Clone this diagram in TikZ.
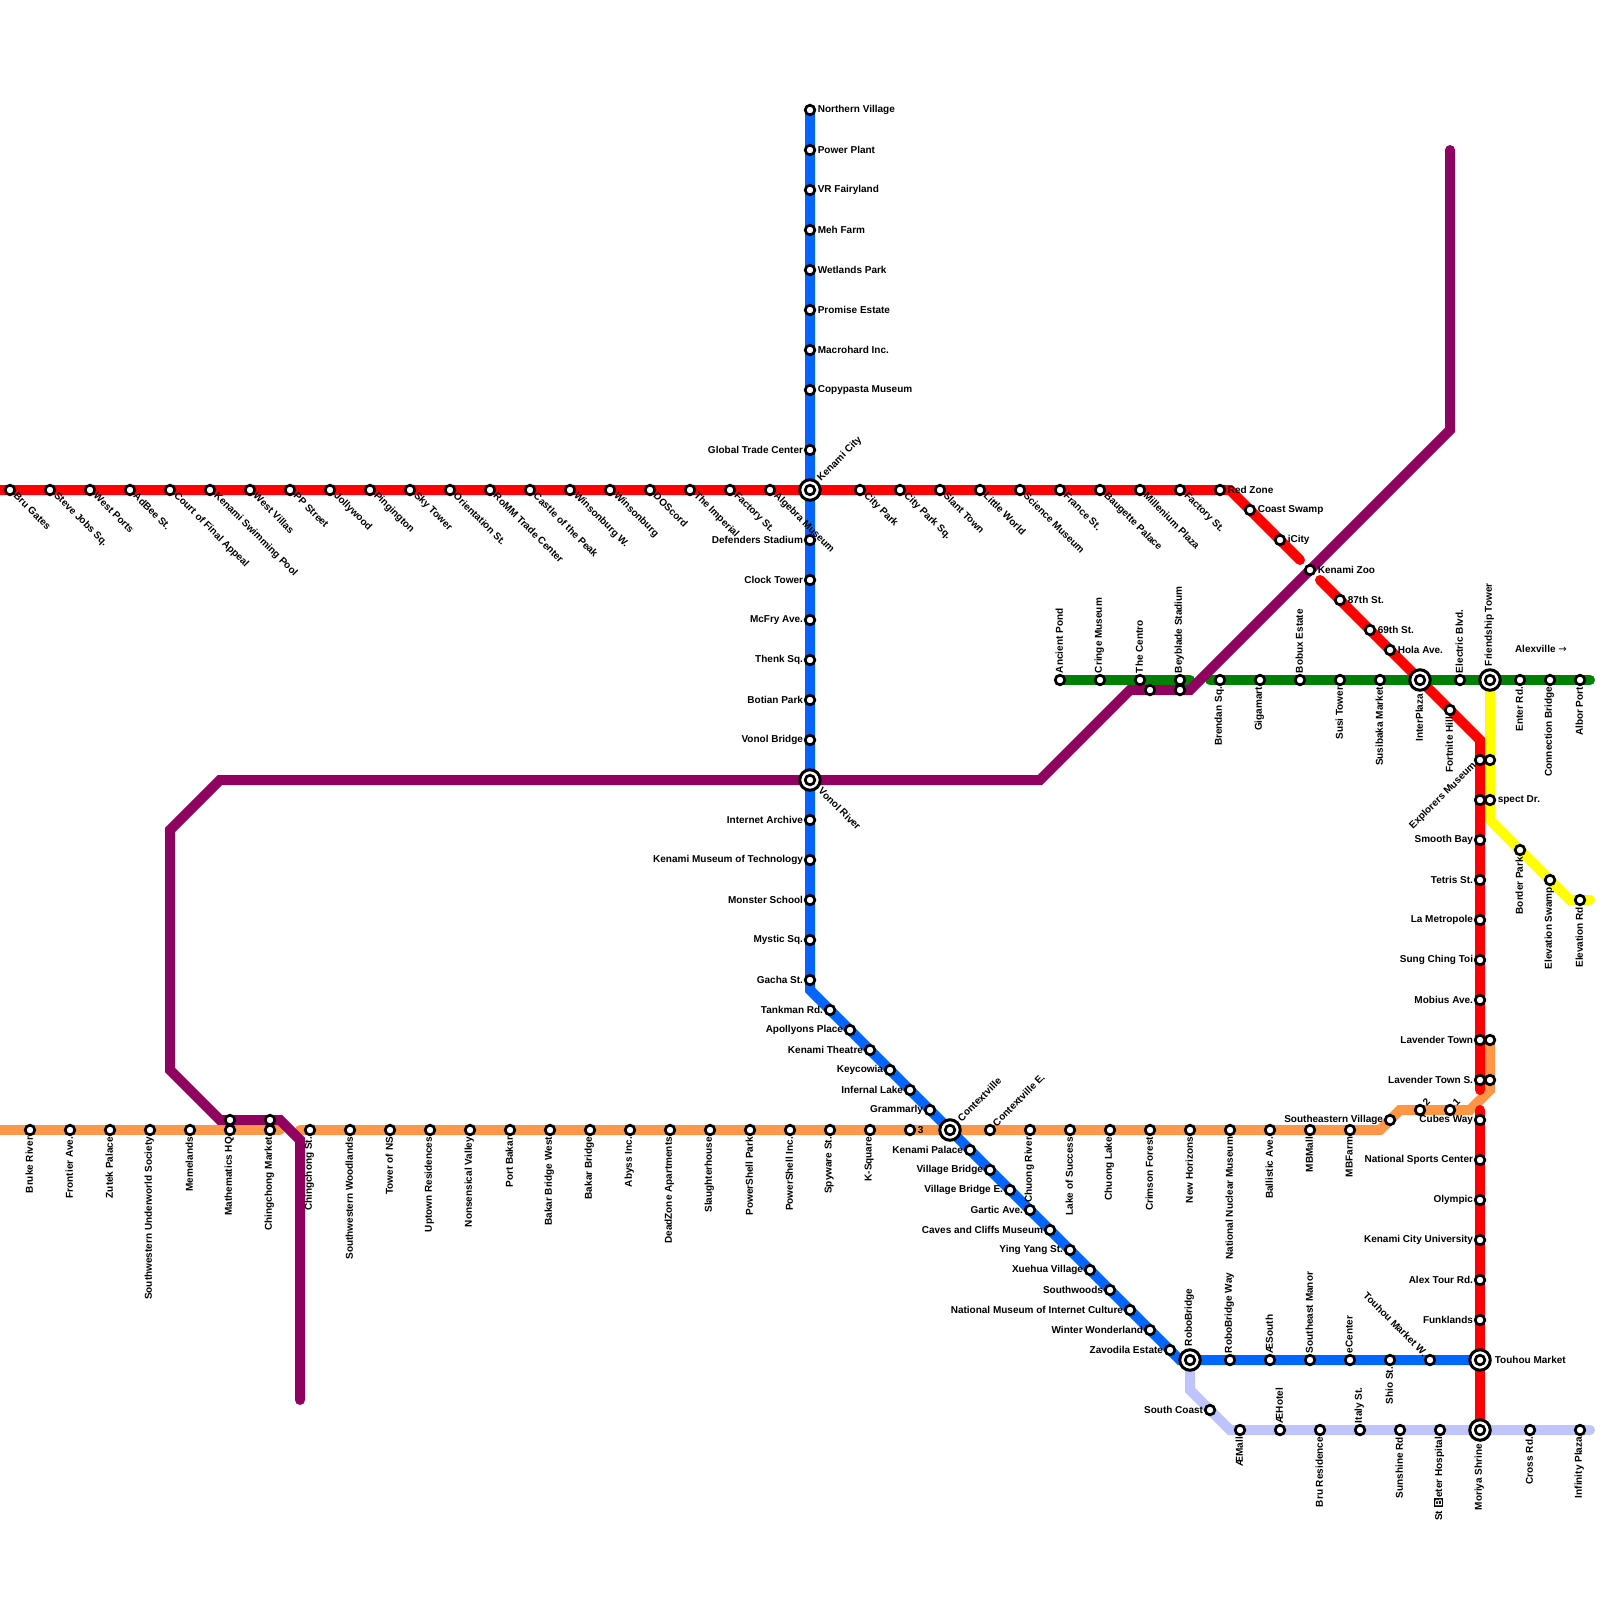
\documentclass[tikz,border=0pt]{standalone}
\usepackage{fontspec}
\setmainfont{Liberation Sans}[BoldFont={Liberation Sans Bold}]
\newfontfamily\arrowfont{DejaVu Sans}
\usetikzlibrary{backgrounds}
\definecolor{cred}{HTML}{FF0000}
\definecolor{cblue}{HTML}{0066FF}
\definecolor{cgreen}{HTML}{008000}
\definecolor{cpurple}{HTML}{8F005F}
\definecolor{corange}{HTML}{FF9747}
\definecolor{cyellow}{HTML}{FFFF00}
\definecolor{clav}{HTML}{BFC4FF}
\tikzset{
  stn/.style={circle,draw=black,fill=white,line width=2.7pt,inner sep=0pt,outer sep=0pt,minimum size=9.6pt},
  hubring/.style={circle,draw=black,fill=white,line width=3pt,inner sep=0pt,outer sep=0pt,minimum size=20.5pt},
  lbl/.style={inner sep=0pt,outer sep=0pt,font=\fontsize{10pt}{10pt}\selectfont\bfseries,text=black},
  lE/.style={lbl,anchor=west,xshift=7.8pt,yshift=.25pt},
  lW/.style={lbl,anchor=east,xshift=-7pt,yshift=.25pt},
  lN/.style={lbl,rotate=90,anchor=west,xshift=7pt,yshift=.8pt},
  lS/.style={lbl,rotate=90,anchor=east,xshift=-7pt,yshift=.8pt},
  lNE/.style={lbl,rotate=45,anchor=west,xshift=7pt,yshift=.8pt},
  lSE/.style={lbl,rotate=-45,anchor=west,xshift=7pt,yshift=.8pt},
  lNW/.style={lbl,rotate=-45,anchor=east,xshift=-7pt,yshift=.8pt},
  lSW/.style={lbl,rotate=45,anchor=east,xshift=-7pt,yshift=.8pt},
  metro/.style={line width=10pt,line cap=round,miter limit=10},
}
\newcommand{\stp}[5]{\node[stn] (#1) at (#2,#3) {}; \node[#4] (#1-t) at (#1.center) {#5};}
\newcommand{\stq}[3]{\node[stn] (#1) at (#2,#3) {};}
\newcommand{\hub}[5]{\node[hubring] (#1) at (#2,#3) {}; \node[stn] (#1-c) at (#1.center) {}; \node[#4,xshift=0pt] (#1-t) at (#1.center) {#5};}
\begin{document}
\begin{tikzpicture}[x=1pt,y=-1pt]
\useasboundingbox (0,0) rectangle (1600,1600);
% free ends and bends
\coordinate (rA) at (-10,490);
\coordinate (rB) at (1230,490);
\coordinate (rC) at (1300,560);
\coordinate (rD) at (1320,580);
\coordinate (rE) at (1480,740);
\coordinate (rF) at (1480,1090);
\coordinate (rG) at (1480,1110);
\coordinate (bA) at (810,990);
\coordinate (bB) at (1180,1360);
\coordinate (gA) at (1190,680);
\coordinate (gB) at (1210,680);
\coordinate (gC) at (1590,680);
\coordinate (pA) at (1450,150);
\coordinate (pB) at (1450,430);
\coordinate (pC) at (1190,690);
\coordinate (pD) at (1130,690);
\coordinate (pE) at (1040,780);
\coordinate (pF) at (220,780);
\coordinate (pG) at (170,830);
\coordinate (pH) at (170,1070);
\coordinate (pI) at (220,1120);
\coordinate (pJ) at (280,1120);
\coordinate (pK) at (300,1140);
\coordinate (pL) at (300,1400);
\coordinate (oA) at (-10,1130);
\coordinate (oB) at (280,1130);
\coordinate (oC) at (300,1130);
\coordinate (oD) at (1380,1130);
\coordinate (oE) at (1400,1110);
\coordinate (oF) at (1470,1110);
\coordinate (oG) at (1490,1090);
\coordinate (yA) at (1490,820);
\coordinate (yB) at (1570,900);
\coordinate (yC) at (1590,900);
\coordinate (lA) at (1190,1390);
\coordinate (lB) at (1230,1430);
\coordinate (lC) at (1590,1430);
% red horizontal
\stp{r1}{10}{490}{lSE}{Bru Gates}
\stp{r2}{50}{490}{lSE}{Steve Jobs Sq.}
\stp{r3}{90}{490}{lSE}{West Ports}
\stp{r4}{130}{490}{lSE}{AdBee St.}
\stp{r5}{170}{490}{lSE}{Court of Final Appeal}
\stp{r6}{210}{490}{lSE}{Kenami Swimming Pool}
\stp{r7}{250}{490}{lSE}{West Villas}
\stp{r8}{290}{490}{lSE}{PP Street}
\stp{r9}{330}{490}{lSE}{Jollywood}
\stp{r10}{370}{490}{lSE}{Pingington}
\stp{r11}{410}{490}{lSE}{Sky Tower}
\stp{r12}{450}{490}{lSE}{Orientation St.}
\stp{r13}{490}{490}{lSE}{RoMM Trade Center}
\stp{r14}{530}{490}{lSE}{Castle of the Peak}
\stp{r15}{570}{490}{lSE}{Winsonburg W.}
\stp{r16}{610}{490}{lSE}{Winsonburg}
\stp{r17}{650}{490}{lSE}{DOScord}
\stp{r18}{690}{490}{lSE}{The Imperial}
\stp{r19}{730}{490}{lSE}{Factory St.}
\stp{r20}{770}{490}{lSE}{Algebra Museum}
\hub{kenami}{810}{490}{lNE,xshift=7pt}{Kenami City}
\stp{r21}{860}{490}{lSE}{City Park}
\stp{r22}{900}{490}{lSE}{City Park Sq.}
\stp{r23}{940}{490}{lSE}{Slant Town}
\stp{r24}{980}{490}{lSE}{Little World}
\stp{r25}{1020}{490}{lSE}{Science Museum}
\stp{r26}{1060}{490}{lSE}{France St.}
\stp{r27}{1100}{490}{lSE}{Baugette Palace}
\stp{r28}{1140}{490}{lSE}{Millenium Plaza}
\stp{r29}{1180}{490}{lSE}{Factory St.}
\stp{r30}{1220}{490}{lE}{Red Zone}
\stp{r31}{1250}{510}{lE}{Coast Swamp}
\stp{r32}{1280}{540}{lE}{iCity}
\stp{r33}{1310}{570}{lE}{Kenami Zoo}
\stp{r34}{1340}{600}{lE}{87th St.}
\stp{r35}{1370}{630}{lE}{69th St.}
\stp{r36}{1390}{650}{lE}{Hola Ave.}
\stp{r37}{1450}{710}{lS}{Fortnite Hill}
% red vertical
\stp{v1}{1480}{760}{lSW}{Explorers Museum}
\stq{v2}{1480}{800}
\stp{v3}{1480}{840}{lW}{Smooth Bay}
\stp{v4}{1480}{880}{lW}{Tetris St.}
\stp{v5}{1480}{920}{lW}{La Metropole}
\stp{v6}{1480}{960}{lW}{Sung Ching Toi}
\stp{v7}{1480}{1000}{lW}{Mobius Ave.}
\stp{v8}{1480}{1040}{lW}{Lavender Town}
\stp{v9}{1480}{1080}{lW}{Lavender Town S.}
\stp{v10}{1480}{1120}{lW}{Cubes Way}
\stp{v11}{1480}{1160}{lW}{National Sports Center}
\stp{v12}{1480}{1200}{lW}{Olympic}
\stp{v13}{1480}{1240}{lW}{Kenami City University}
\stp{v14}{1480}{1280}{lW}{Alex Tour Rd.}
\stp{v15}{1480}{1320}{lW}{Funklands}
\hub{touhou}{1480}{1360}{lE,xshift=7pt}{Touhou Market}
\hub{moriya}{1480}{1430}{lS,xshift=-7pt}{Moriya Shrine}
% blue vertical
\stp{b1}{810}{110}{lE}{Northern Village}
\stp{b2}{810}{150}{lE}{Power Plant}
\stp{b3}{810}{190}{lE}{VR Fairyland}
\stp{b4}{810}{230}{lE}{Meh Farm}
\stp{b5}{810}{270}{lE}{Wetlands Park}
\stp{b6}{810}{310}{lE}{Promise Estate}
\stp{b7}{810}{350}{lE}{Macrohard Inc.}
\stp{b8}{810}{390}{lE}{Copypasta Museum}
\stp{b9}{810}{450}{lW}{Global Trade Center}
\stp{b10}{810}{540}{lW}{Defenders Stadium}
\stp{b11}{810}{580}{lW}{Clock Tower}
\stp{b12}{810}{620}{lW}{McFry Ave.}
\stp{b13}{810}{660}{lW}{Thenk Sq.}
\stp{b14}{810}{700}{lW}{Botian Park}
\stp{b15}{810}{740}{lW}{Vonol Bridge}
\hub{vonol}{810}{780}{lSE,xshift=7pt}{Vonol River}
\stp{b16}{810}{820}{lW}{Internet Archive}
\stp{b17}{810}{860}{lW}{Kenami Museum of Technology}
\stp{b18}{810}{900}{lW}{Monster School}
\stp{b19}{810}{940}{lW}{Mystic Sq.}
\stp{b20}{810}{980}{lW}{Gacha St.}
% blue diagonal
\stp{d1}{830}{1010}{lW}{Tankman Rd.}
\stp{d2}{850}{1030}{lW}{Apollyons Place}
\stp{d3}{870}{1050}{lW}{Kenami Theatre}
\stp{d4}{890}{1070}{lW}{Keycowia}
\stp{d5}{910}{1090}{lW}{Infernal Lake}
\stp{d6}{930}{1110}{lW}{Grammarly}
\hub{context}{950}{1130}{lNE,xshift=7pt}{Contextville}
\stp{d7}{970}{1150}{lW}{Kenami Palace}
\stp{d8}{990}{1170}{lW}{Village Bridge}
\stp{d9}{1010}{1190}{lW}{Village Bridge E.}
\stp{d10}{1030}{1210}{lW}{Gartic Ave.}
\stp{d11}{1050}{1230}{lW}{Caves and Cliffs Museum}
\stp{d12}{1070}{1250}{lW}{Ying Yang St.}
\stp{d13}{1090}{1270}{lW}{Xuehua Village}
\stp{d14}{1110}{1290}{lW}{Southwoods}
\stp{d15}{1130}{1310}{lW}{National Museum of Internet Culture}
\stp{d16}{1150}{1330}{lW}{Winter Wonderland}
\stp{d17}{1170}{1350}{lW}{Zavodila Estate}
\hub{robo}{1190}{1360}{lN,xshift=7pt}{RoboBridge}
% blue horizontal
\stp{h1}{1230}{1360}{lN}{RoboBridge Way}
\stp{h2}{1270}{1360}{lN}{ÆSouth}
\stp{h3}{1310}{1360}{lN}{Southeast Manor}
\stp{h4}{1350}{1360}{lN}{eCenter}
\stp{h5}{1390}{1360}{lS}{Shio St.}
\stp{h6}{1430}{1360}{lNW}{Touhou Market W.}
% lavender
\stp{l1}{1210}{1410}{lW}{South Coast}
\stp{l2}{1240}{1430}{lS}{ÆMall}
\stp{l3}{1280}{1430}{lN}{ÆHotel}
\stp{l4}{1320}{1430}{lS}{Bru Residence}
\stp{l5}{1360}{1430}{lN}{Italy St.}
\stp{l6}{1400}{1430}{lS}{Sunshine Rd}
\stp{l7}{1440}{1430}{lS}{St\hspace{3.5pt}{\setlength{\fboxsep}{1.2pt}\colorbox{black}{\textcolor{white}{B}}}eter Hospital}
\stp{l8}{1530}{1430}{lS}{Cross Rd.}
\stp{l9}{1580}{1430}{lS}{Infinity Plaza}
% green
\stp{g1}{1060}{680}{lN}{Ancient Pond}
\stp{g2}{1100}{680}{lN}{Cringe Museum}
\stp{g3}{1140}{680}{lN}{The Centro}
\stp{g4}{1180}{680}{lN}{Beyblade Stadium}
\stp{g5}{1220}{680}{lS}{Brendan Sq.}
\stp{g6}{1260}{680}{lS}{Gigamart}
\stp{g7}{1300}{680}{lN}{Bobux Estate}
\stp{g8}{1340}{680}{lS}{Susi Tower}
\stp{g9}{1380}{680}{lS}{Susibaka Market}
\hub{inter}{1420}{680}{lS,xshift=-7pt}{InterPlaza}
\stp{g10}{1460}{680}{lN}{Electric Blvd.}
\hub{friend}{1490}{680}{lN,xshift=7pt}{Friendship Tower}
\stp{g11}{1520}{680}{lS}{Enter Rd.}
\stp{g12}{1550}{680}{lS}{Connection Bridge}
\stp{g13}{1580}{680}{lS}{Albor Port}
\node[lbl,anchor=west] (alex) at (1515,649) {Alexville {\arrowfont\mdseries →}};
% purple stations
\stq{p1}{1150}{690}
\stq{p2}{1180}{690}
\stq{p3}{230}{1120}
\stq{p4}{270}{1120}
% yellow
\stq{y1}{1490}{760}
\stp{y2}{1490}{800}{lE}{spect Dr.}
\stp{y3}{1520}{850}{lS}{Border Park}
\stp{y4}{1550}{880}{lS}{Elevation Swamp}
\stp{y5}{1580}{900}{lS}{Elevation Rd}
% orange
\stp{o1}{30}{1130}{lS}{Bruke River}
\stp{o2}{70}{1130}{lS}{Frontier Ave.}
\stp{o3}{110}{1130}{lS}{Zutek Palace}
\stp{o4}{150}{1130}{lS}{Southwestern Underworld Society}
\stp{o5}{190}{1130}{lS}{Memelands}
\stp{o6}{230}{1130}{lS}{Mathematics HQ}
\stp{o7}{270}{1130}{lS}{Chingchong Market}
\stp{o8}{310}{1130}{lS}{Chingchong St.}
\stp{o9}{350}{1130}{lS}{Southwestern Woodlands}
\stp{o10}{390}{1130}{lS}{Tower of NS}
\stp{o11}{430}{1130}{lS}{Uptown Residences}
\stp{o12}{470}{1130}{lS}{Nonsensical Valley}
\stp{o13}{510}{1130}{lS}{Port Bakar}
\stp{o14}{550}{1130}{lS}{Bakar Bridge West}
\stp{o15}{590}{1130}{lS}{Bakar Bridge}
\stp{o16}{630}{1130}{lS}{Abyss Inc.}
\stp{o17}{670}{1130}{lS}{DeadZone Apartments}
\stp{o18}{710}{1130}{lS}{Slaughterhouse}
\stp{o19}{750}{1130}{lS}{PowerShell Park}
\stp{o20}{790}{1130}{lS}{PowerShell Inc.}
\stp{o21}{830}{1130}{lS}{Spyware St.}
\stp{o22}{870}{1130}{lS}{K-Square}
\stp{o23}{910}{1130}{lE}{3}
\stp{o24}{990}{1130}{lNE}{Contextville E.}
\stp{o25}{1030}{1130}{lS}{Chuong River}
\stp{o26}{1070}{1130}{lS}{Lake of Success}
\stp{o27}{1110}{1130}{lS}{Chuong Lake}
\stp{o28}{1150}{1130}{lS}{Crimson Forest}
\stp{o29}{1190}{1130}{lS}{New Horizons}
\stp{o30}{1230}{1130}{lS}{National Nuclear Museum}
\stp{o31}{1270}{1130}{lS}{Ballistic Ave.}
\stp{o32}{1310}{1130}{lS}{MBMall}
\stp{o33}{1350}{1130}{lS}{MBFarm}
\stp{o34}{1390}{1120}{lW}{Southeastern Village}
\stp{o35}{1420}{1110}{lNE}{2}
\stp{o36}{1450}{1110}{lNE}{1}
\stq{o37}{1490}{1040}
\stq{o38}{1490}{1080}
\begin{scope}[on background layer]
\draw[metro,clav] (robo.center) -- (lA) -- (lB) -- (lC);
\draw[metro,cyellow] (friend.center) -- (yA) -- (yB) -- (yC);
\draw[metro,cgreen] (g1.center) -- (gA);
\draw[metro,cgreen] (gB) -- (gC);
\draw[metro,corange] (oA) -- (oB);
\draw[metro,corange] (oC) -- (oD) -- (oE) -- (oF) -- (oG) -- (o37.center);
\draw[metro,cred] (rA) -- (rB) -- (rC);
\draw[metro,cred] (rD) -- (rE) -- (rF);
\draw[metro,cred] (rG) -- (moriya.center);
\draw[metro,cblue] (b1.center) -- (bA) -- (bB) -- (touhou.center);
\draw[metro,cpurple] (pA) -- (pB) -- (pC) -- (pD) -- (pE) -- (pF) -- (pG) -- (pH) -- (pI) -- (pJ) -- (pK) -- (pL);
\end{scope}
\end{tikzpicture}
\end{document}
